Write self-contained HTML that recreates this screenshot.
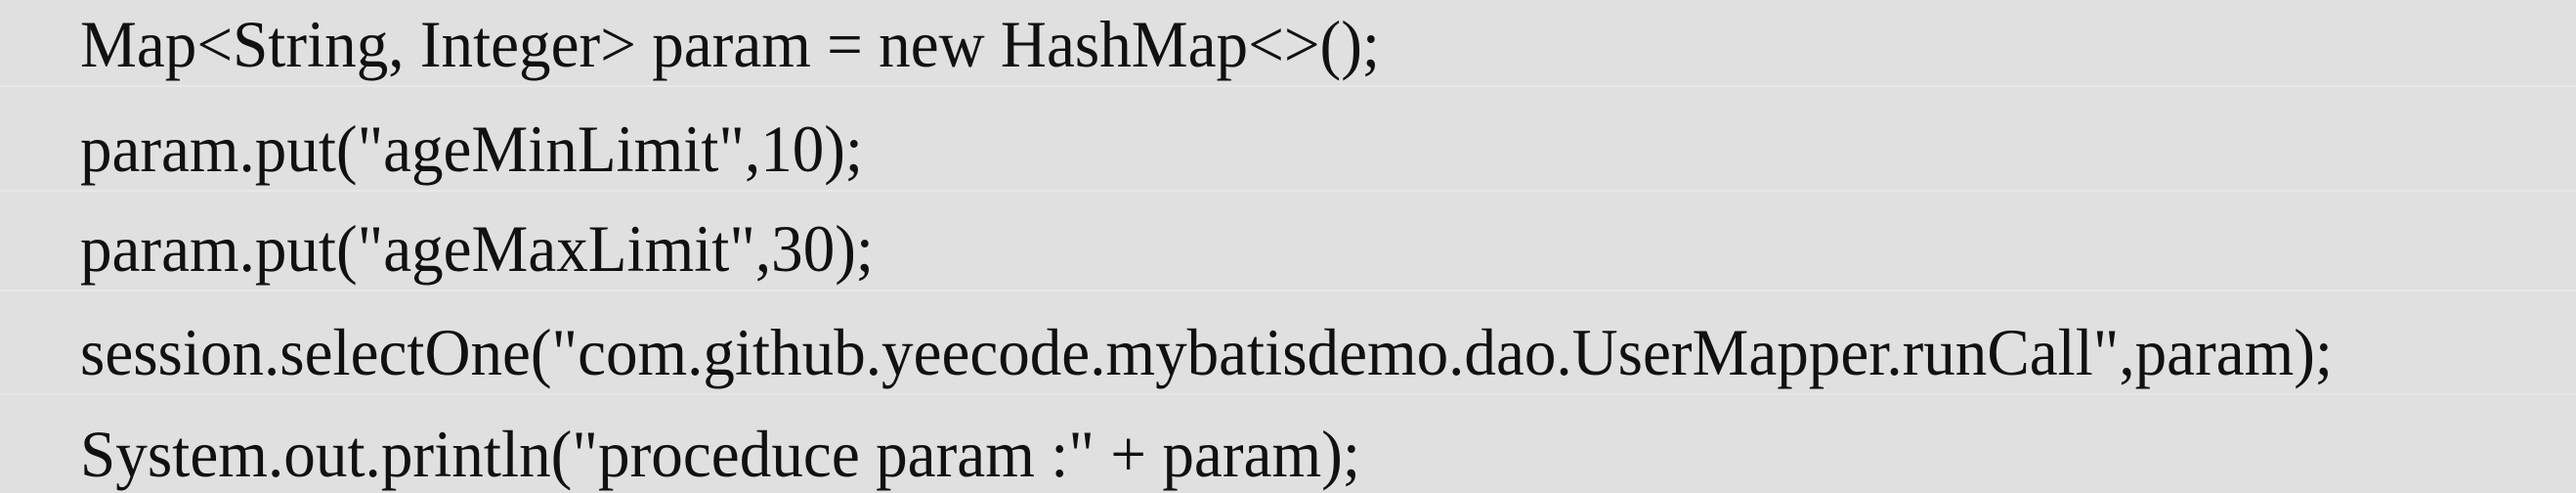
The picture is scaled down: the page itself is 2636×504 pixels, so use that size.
<!DOCTYPE html>
<html><head><meta charset="utf-8"><style>
html,body{margin:0;padding:0;background:#e0e0e0;}
svg{display:block;}
text{font-family:"Liberation Serif",serif;font-size:68px;fill:#111;}
</style></head><body>
<svg width="2636" height="504" viewBox="0 0 2636 504" xmlns="http://www.w3.org/2000/svg">
<rect width="2636" height="504" fill="#e0e0e0"/>
<rect x="0" y="87" width="2636" height="2" fill="#e8e8e8"/>
<rect x="0" y="194" width="2636" height="2" fill="#e8e8e8"/>
<rect x="0" y="296" width="2636" height="2" fill="#e8e8e8"/>
<rect x="0" y="402" width="2636" height="2" fill="#e8e8e8"/>
<text x="82" y="68" textLength="1330" lengthAdjust="spacingAndGlyphs">Map&lt;String, Integer&gt; param = new HashMap&lt;&gt;();</text>
<text x="82" y="175" textLength="801" lengthAdjust="spacingAndGlyphs">param.put("ageMinLimit",10);</text>
<text x="82" y="277" textLength="812" lengthAdjust="spacingAndGlyphs">param.put("ageMaxLimit",30);</text>
<text x="82" y="383" textLength="2305" lengthAdjust="spacingAndGlyphs">session.selectOne("com.github.yeecode.mybatisdemo.dao.UserMapper.runCall",param);</text>
<text x="82" y="487" textLength="1310" lengthAdjust="spacingAndGlyphs">System.out.println("proceduce param :" + param);</text>
</svg>
</body></html>
